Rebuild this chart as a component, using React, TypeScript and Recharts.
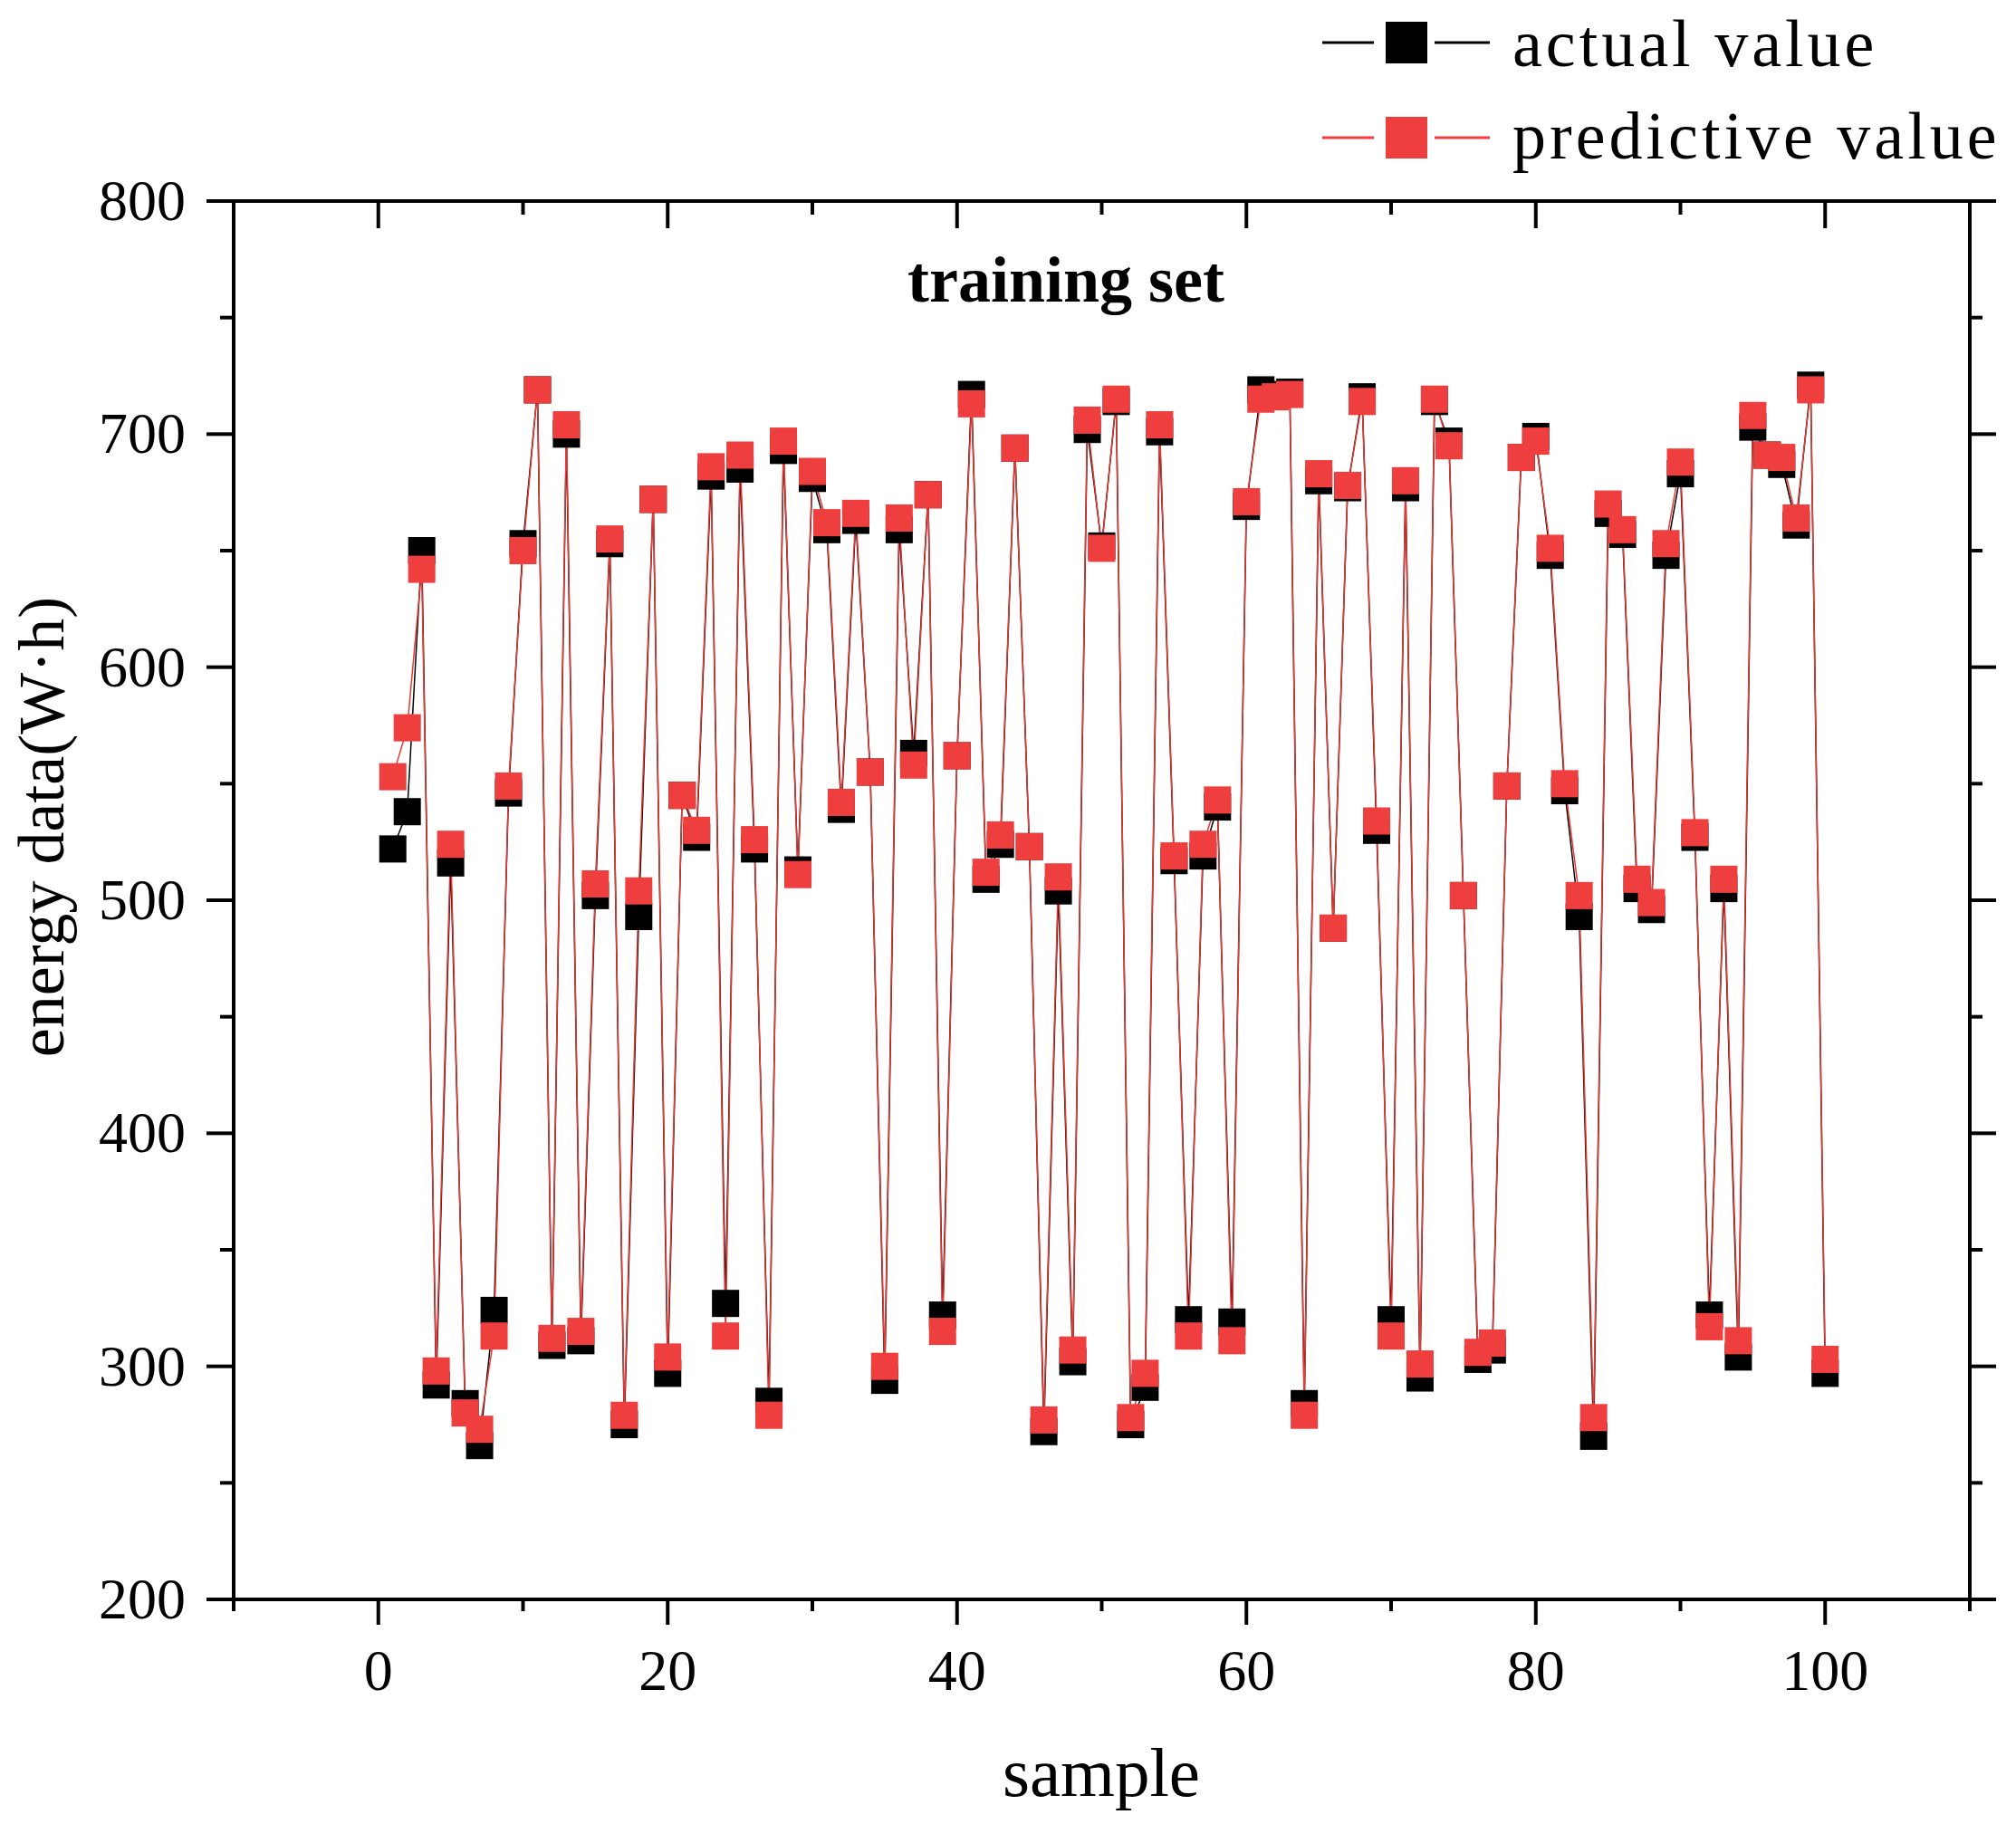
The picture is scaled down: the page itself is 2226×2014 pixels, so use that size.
import { LineChart, Line, XAxis, YAxis } from "recharts";

// sample index 1..100
const samples = [
  1, 2, 3, 4, 5, 6, 7, 8, 9, 10, 11, 12, 13, 14, 15, 16, 17, 18, 19, 20,
  21, 22, 23, 24, 25, 26, 27, 28, 29, 30, 31, 32, 33, 34, 35, 36, 37, 38, 39, 40,
  41, 42, 43, 44, 45, 46, 47, 48, 49, 50, 51, 52, 53, 54, 55, 56, 57, 58, 59, 60,
  61, 62, 63, 64, 65, 66, 67, 68, 69, 70, 71, 72, 73, 74, 75, 76, 77, 78, 79, 80,
  81, 82, 83, 84, 85, 86, 87, 88, 89, 90, 91, 92, 93, 94, 95, 96, 97, 98, 99, 100,
];

const actualValue = [
  522, 538, 650, 292, 516, 284, 266, 324, 546, 653,
  719, 309, 700, 311, 502, 653, 275, 493, 672, 297,
  545, 527, 682, 327, 685, 522, 285, 693, 513, 681,
  659, 539, 663, 555, 294, 659, 563, 674, 322, 562,
  717, 509, 524, 694, 523, 272, 504, 302, 702, 652,
  714, 275, 291, 701, 517, 320, 519, 540, 319, 669,
  719, 717, 718, 284, 680, 488, 677, 716, 530, 320,
  677, 295, 714, 697, 502, 303, 307, 549, 690, 699,
  648, 547, 493, 270, 666, 657, 505, 496, 648, 683,
  527, 322, 505, 304, 703, 691, 687, 661, 721, 297,
];

const predictiveValue = [
  553, 574, 642, 298, 524, 280, 273, 313, 549, 650,
  719, 312, 704, 315, 507, 655, 279, 504, 672, 304,
  545, 530, 686, 313, 691, 526, 279, 697, 511, 684,
  662, 542, 666, 555, 300, 664, 558, 674, 315, 562,
  713, 512, 528, 694, 523, 277, 510, 307, 706, 651,
  715, 278, 297, 704, 519, 313, 524, 543, 311, 671,
  715, 716, 717, 279, 683, 488, 678, 714, 534, 313,
  680, 301, 715, 695, 502, 306, 310, 549, 690, 697,
  651, 550, 502, 278, 670, 659, 509, 499, 653, 688,
  529, 317, 509, 311, 708, 691, 690, 664, 719, 303,
];

const xTicks = [-10, 0, 10, 20, 30, 40, 50, 60, 70, 80, 90, 100, 110];
const xLabels = [0, 20, 40, 60, 80, 100];
const yTicks = [200, 250, 300, 350, 400, 450, 500, 550, 600, 650, 700, 750, 800];
const yLabels = [200, 300, 400, 500, 600, 700, 800];

const rows = samples.map((s, i) => ({
  sample: s,
  actual: actualValue[i],
  predictive: predictiveValue[i],
}));

const FONT = "'Liberation Serif', 'Times New Roman', serif";
const RED = "#EF3E3E";
const RED_LINE = "#E53935";

// axes get 1px of height/width (0 would hide them), ticks are drawn by hand
const BottomTick = (props: any) => {
  const { x, payload } = props;
  const y = props.y - 1;
  const major = xLabels.includes(payload.value);
  return (
    <g>
      <line x1={x} x2={x} y1={y} y2={y + (major ? 29 : 14)} stroke="#000" strokeWidth={4} />
      {major && (
        <text x={x} y={y + 101} textAnchor="middle" fontSize={64} fontFamily={FONT} fill="#000">
          {payload.value}
        </text>
      )}
    </g>
  );
};

const TopTick = (props: any) => {
  const { x, y, payload } = props;
  const major = xLabels.includes(payload.value);
  return <line x1={x} x2={x} y1={y} y2={y + (major ? 30 : 15)} stroke="#000" strokeWidth={4} />;
};

const LeftTick = (props: any) => {
  const { x, y, payload } = props;
  const major = yLabels.includes(payload.value);
  return (
    <g>
      <line x1={x} x2={x - (major ? 30 : 15)} y1={y} y2={y} stroke="#000" strokeWidth={4} />
      {major && (
        <text x={x - 53} y={y + 21} textAnchor="end" fontSize={64} fontFamily={FONT} fill="#000">
          {payload.value}
        </text>
      )}
    </g>
  );
};

const RightTick = (props: any) => {
  const { x, y, payload } = props;
  const major = yLabels.includes(payload.value);
  return <line x1={x} x2={x + (major ? 29 : 14)} y1={y} y2={y} stroke="#000" strokeWidth={4} />;
};

const square = (color: string) => (p: any) => (
  <rect key={`${color}-${p.index}`} x={p.cx - 15} y={p.cy - 15} width={30} height={30} fill={color} />
);

const axisLine = { stroke: "#000", strokeWidth: 4, strokeLinecap: "square" as const };

export default function App() {
  return (
    <div style={{ position: "absolute", left: 0, top: 0, background: "#fff" }}>
      <LineChart
        width={2226}
        height={2014}
        data={rows}
        margin={{ top: 221, right: 50, bottom: 247, left: 257 }}
      >
        <XAxis
          xAxisId="b"
          dataKey="sample"
          type="number"
          domain={[-10, 110]}
          ticks={xTicks}
          allowDataOverflow
          height={1}
          tickSize={0}
          tickMargin={0}
          axisLine={axisLine}
          tickLine={false}
          tick={<BottomTick />}
          interval={0}
        />
        <XAxis
          xAxisId="t"
          dataKey="sample"
          orientation="top"
          type="number"
          domain={[-10, 110]}
          ticks={xTicks}
          allowDataOverflow
          height={1}
          tickSize={0}
          tickMargin={0}
          axisLine={axisLine}
          tickLine={false}
          tick={<TopTick />}
          interval={0}
        />
        <YAxis
          yAxisId="l"
          type="number"
          domain={[200, 800]}
          ticks={yTicks}
          allowDataOverflow
          width={1}
          tickSize={0}
          tickMargin={0}
          axisLine={axisLine}
          tickLine={false}
          tick={<LeftTick />}
          interval={0}
        />
        <YAxis
          yAxisId="r"
          orientation="right"
          type="number"
          domain={[200, 800]}
          ticks={yTicks}
          allowDataOverflow
          width={1}
          tickSize={0}
          tickMargin={0}
          axisLine={axisLine}
          tickLine={false}
          tick={<RightTick />}
          interval={0}
        />
        <Line
          xAxisId="b"
          yAxisId="l"
          type="linear"
          dataKey="actual"
          stroke="#000"
          strokeWidth={1.5}
          dot={square("#000")}
          activeDot={false}
          isAnimationActive={false}
        />
        <Line
          xAxisId="b"
          yAxisId="l"
          type="linear"
          dataKey="predictive"
          stroke={RED_LINE}
          strokeWidth={1.5}
          dot={square(RED)}
          activeDot={false}
          isAnimationActive={false}
        />

        {/* title */}
        <text x={1177} y={333} textAnchor="middle" fontSize={72} fontWeight="bold" fontFamily={FONT} fill="#000">
          training set
        </text>

        {/* axis titles */}
        <text x={1216} y={1983} textAnchor="middle" fontSize={77} fontFamily={FONT} fill="#000">
          sample
        </text>
        <text
          x={70}
          y={913}
          textAnchor="middle"
          fontSize={72}
          fontFamily={FONT}
          fill="#000"
          transform="rotate(-90 70 913)"
        >
          energy data(W·h)
        </text>

        {/* legend */}
        <g>
          <line x1={1460} x2={1517} y1={47} y2={47} stroke="#000" strokeWidth={3} />
          <rect x={1530} y={24} width={46} height={46} fill="#000" />
          <line x1={1584} x2={1645} y1={47} y2={47} stroke="#000" strokeWidth={3} />
          <text x={1670} y={73} fontSize={74} letterSpacing={4} fontFamily={FONT} fill="#000">
            actual value
          </text>
          <line x1={1460} x2={1517} y1={152} y2={152} stroke={RED} strokeWidth={3} />
          <rect x={1530} y={129} width={46} height={46} fill={RED} />
          <line x1={1584} x2={1645} y1={152} y2={152} stroke={RED} strokeWidth={3} />
          <text x={1670} y={175} fontSize={74} letterSpacing={4} fontFamily={FONT} fill="#000">
            predictive value
          </text>
        </g>
      </LineChart>
    </div>
  );
}
